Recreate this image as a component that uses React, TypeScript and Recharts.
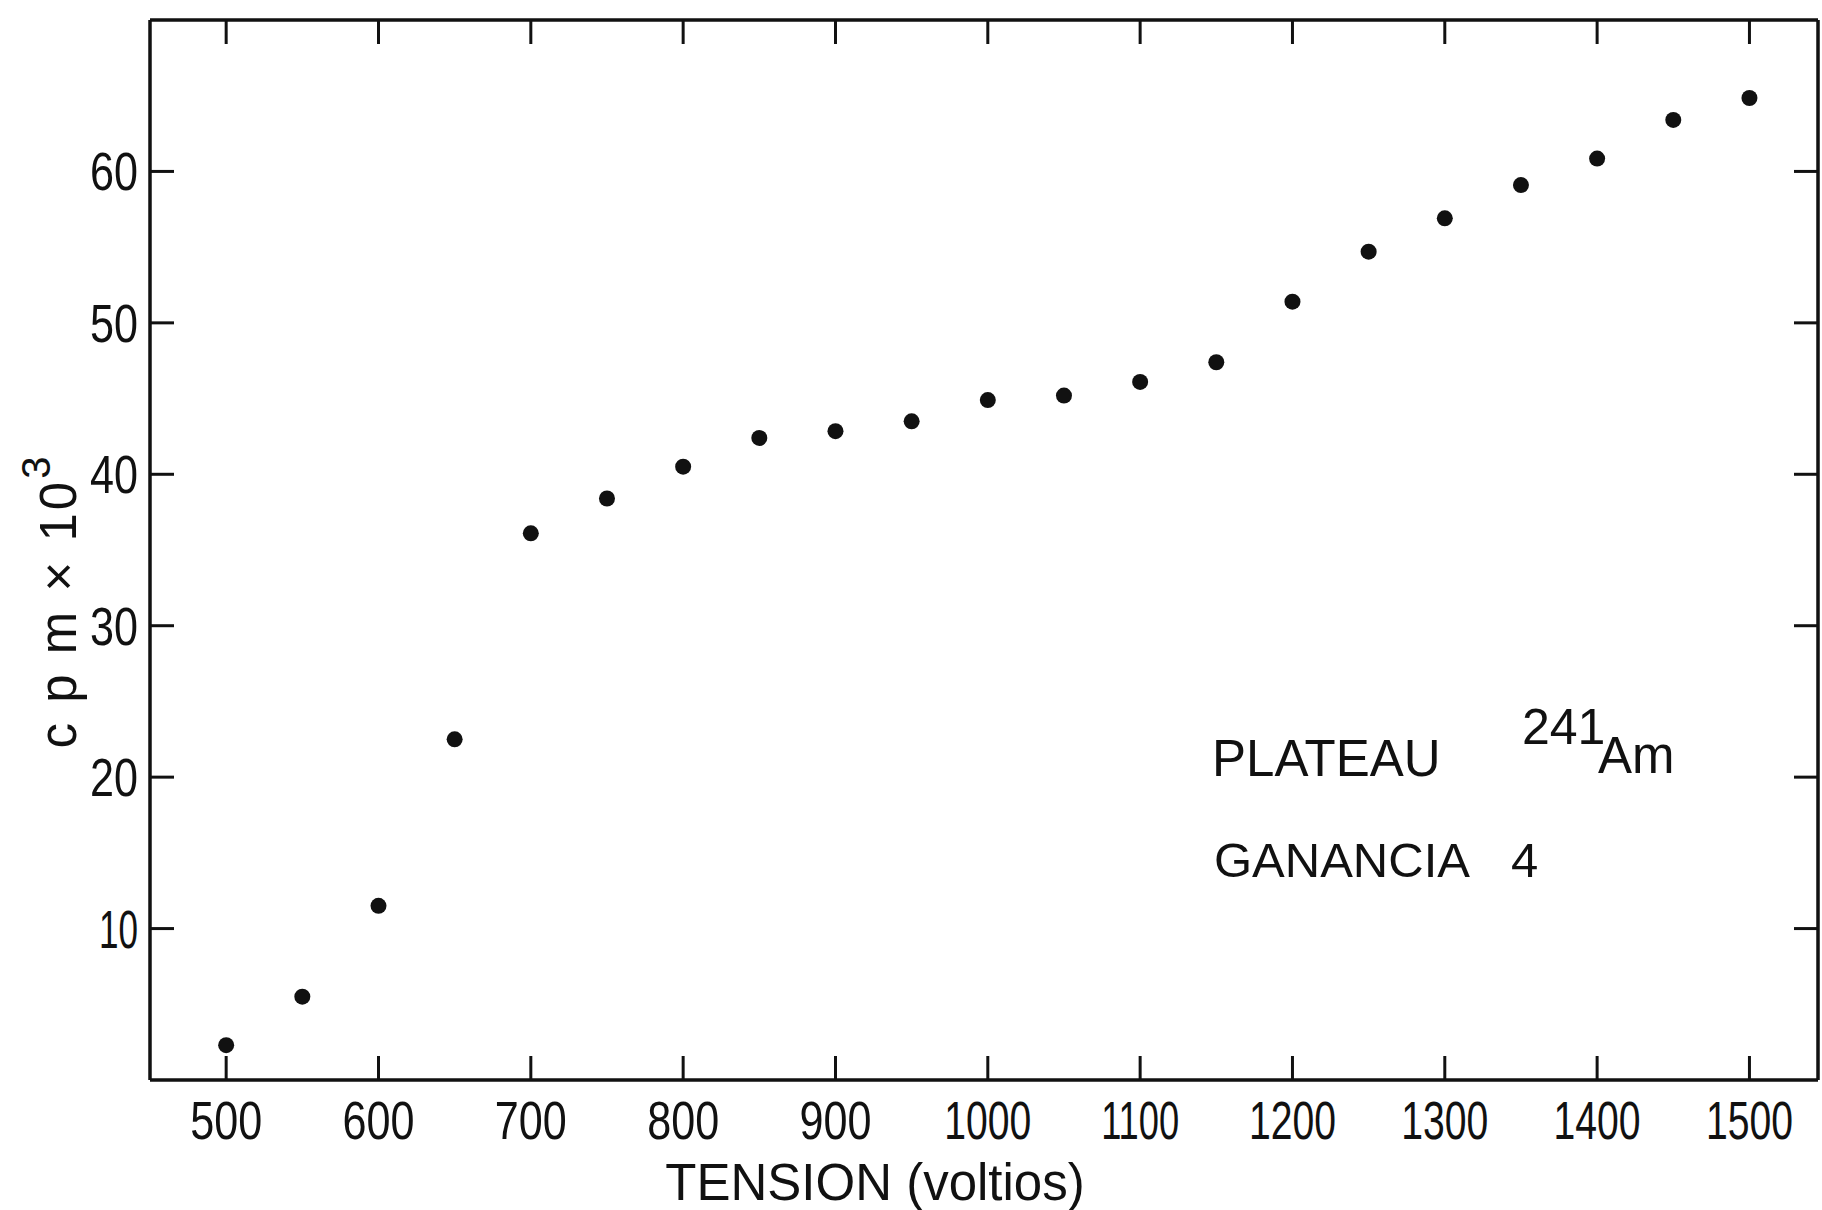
import { ScatterChart, Scatter, XAxis, YAxis, Customized } from 'recharts';

// tension (V) and counts (cpm x 10^3)
const voltages = [500, 550, 600, 650, 700, 750, 800, 850, 900, 950, 1000, 1050, 1100, 1150, 1200, 1250, 1300, 1350, 1400, 1450, 1500];
const counts = [2.3, 5.5, 11.5, 22.5, 36.1, 38.4, 40.5, 42.4, 42.85, 43.5, 44.9, 45.2, 46.1, 47.4, 51.4, 54.7, 56.9, 59.1, 60.85, 63.4, 64.85];
const xTicks = [500, 600, 700, 800, 900, 1000, 1100, 1200, 1300, 1400, 1500];
const yTicks = [10, 20, 30, 40, 50, 60];

const points = voltages.map((v, i) => ({ v, c: counts[i] }));

const TEXT = "'Liberation Sans', Arial, sans-serif";
const INK = '#111';
const TICK = 24;

const axisLine = { stroke: INK, strokeWidth: 3.5 };

// the scan uses a narrow stencil face; squeeze the digits to that width
const digitWidth = (s: string) => s.split('').reduce((w, ch) => w + (ch === '1' ? 15 : 24), 0);

const Num = ({ x, y, anchor, value }: any) => {
  const s = String(value);
  return (
    <text
      x={x}
      y={y}
      textAnchor={anchor}
      fontFamily={TEXT}
      fontSize={54}
      fill={INK}
      textLength={digitWidth(s)}
      lengthAdjust="spacingAndGlyphs"
    >
      {s}
    </text>
  );
};

const BottomTick = (props: any) => {
  const { x, y, payload } = props;
  return (
    <g>
      <line x1={x} y1={y} x2={x} y2={y - TICK} stroke={INK} strokeWidth={3} />
      <Num x={x} y={y + 59} anchor="middle" value={payload.value} />
    </g>
  );
};

const TopTick = (props: any) => {
  const { x, y } = props;
  return <line x1={x} y1={y} x2={x} y2={y + TICK} stroke={INK} strokeWidth={3} />;
};

const LeftTick = (props: any) => {
  const { x, y, payload } = props;
  return (
    <g>
      <line x1={x} y1={y} x2={x + TICK} y2={y} stroke={INK} strokeWidth={3} />
      <Num x={x - 12} y={y + 19} anchor="end" value={payload.value} />
    </g>
  );
};

const RightTick = (props: any) => {
  const { x, y } = props;
  return <line x1={x} y1={y} x2={x - TICK} y2={y} stroke={INK} strokeWidth={3} />;
};

const Dot = (props: any) => <circle cx={props.cx} cy={props.cy} r={8} fill={INK} />;

const Labels = () => (
  <g fontFamily={TEXT} fill={INK}>
    <text x={875} y={1200} textAnchor="middle" fontSize={51}>TENSION (voltios)</text>
    <text
      x={58}
      y={601}
      transform="rotate(-90, 58, 601)"
      textAnchor="middle"
      dominantBaseline="central"
      fontSize={51}
      letterSpacing={3}
    >
      c p m × 10
      <tspan dy={-22} fontSize={40}>3</tspan>
    </text>
    <text x={1212} y={776} fontSize={51}>PLATEAU</text>
    <text x={1522} y={744} fontSize={50}>241</text>
    <text x={1598} y={773} fontSize={51}>Am</text>
    <text x={1214} y={877} fontSize={49}>GANANCIA</text>
    <text x={1511} y={877} fontSize={49}>4</text>
  </g>
);

export default function App() {
  return (
    <div style={{ position: 'absolute', left: 0, top: 0, background: '#fff' }}>
      <ScatterChart width={1822} height={1210} margin={{ top: 19, right: 3, bottom: 129, left: 149 }}>
        <XAxis
          xAxisId="b"
          type="number"
          dataKey="v"
          domain={[450, 1545]}
          ticks={xTicks}
          interval={0}
          orientation="bottom"
          height={1}
          tickSize={0}
          tickMargin={0}
          tickLine={false}
          axisLine={axisLine}
          tick={BottomTick}
          allowDataOverflow
        />
        <XAxis
          xAxisId="t"
          type="number"
          dataKey="v"
          domain={[450, 1545]}
          ticks={xTicks}
          interval={0}
          orientation="top"
          height={1}
          tickSize={0}
          tickMargin={0}
          tickLine={false}
          axisLine={axisLine}
          tick={TopTick}
          allowDataOverflow
        />
        <YAxis
          yAxisId="l"
          type="number"
          dataKey="c"
          domain={[0, 70]}
          ticks={yTicks}
          interval={0}
          width={1}
          tickSize={0}
          tickMargin={0}
          tickLine={false}
          axisLine={axisLine}
          tick={LeftTick}
          allowDataOverflow
        />
        <YAxis
          yAxisId="r"
          type="number"
          dataKey="c"
          orientation="right"
          domain={[0, 70]}
          ticks={yTicks}
          interval={0}
          width={1}
          tickSize={0}
          tickMargin={0}
          tickLine={false}
          axisLine={axisLine}
          tick={RightTick}
          allowDataOverflow
        />
        <Scatter xAxisId="b" yAxisId="l" data={points} shape={Dot} isAnimationActive={false} />
        <Customized component={Labels} />
      </ScatterChart>
    </div>
  );
}
